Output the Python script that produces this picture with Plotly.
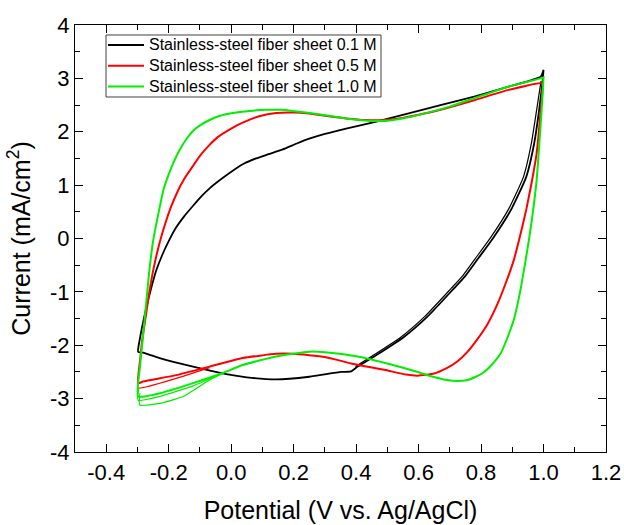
import plotly.graph_objects as go

# Cyclic voltammograms of stainless-steel fiber sheet electrodes at three
# electrolyte concentrations. Potential in V vs. Ag/AgCl, current in mA/cm^2.

# 0.1 M: anodic (forward) and cathodic (reverse) sweeps
v_01_fwd = [-0.298, -0.293, -0.285, -0.272, -0.257, -0.240, -0.220, -0.200, -0.177, -0.150,
            -0.124, -0.097, -0.069, -0.035, 0.005, 0.040, 0.080, 0.120, 0.165, 0.210,
            0.250, 0.300, 0.368, 0.465, 0.565, 0.670, 0.778, 0.885, 0.991, 1.000]
i_01_fwd = [-2.12, -1.90, -1.65, -1.30, -0.95, -0.60, -0.30, -0.05, 0.20, 0.42,
            0.60, 0.78, 0.94, 1.10, 1.27, 1.40, 1.50, 1.58, 1.67, 1.78,
            1.87, 1.96, 2.06, 2.19, 2.34, 2.50, 2.66, 2.84, 3.03, 3.16]
v_01_rev = [1.000, 0.997, 0.986, 0.970, 0.945, 0.898, 0.840, 0.790, 0.750, 0.714, 0.629,
            0.554, 0.469, 0.405, 0.384, 0.352, 0.250, 0.144, 0.050, -0.016, -0.122, -0.229,
            -0.282, -0.298]
i_01_rev = [3.16, 2.95, 2.41, 1.78, 1.16, 0.56, 0.02, -0.38, -0.70, -0.93, -1.46,
            -1.84, -2.17, -2.40, -2.49, -2.50, -2.59, -2.64, -2.60, -2.54, -2.40, -2.24,
            -2.14, -2.12]
# second cycle, cathodic sweep
v_01_rev2 = [0.992, 0.978, 0.961, 0.936, 0.889, 0.831, 0.781, 0.741, 0.705, 0.620, 0.545,
             0.460, 0.398]
i_01_rev2 = [2.95, 2.41, 1.78, 1.16, 0.56, 0.02, -0.38, -0.70, -0.93, -1.46, -1.84,
             -2.17, -2.40]

# 0.5 M
v_05_fwd = [-0.298, -0.292, -0.284, -0.272, -0.262, -0.248, -0.230, -0.210, -0.192, -0.170,
            -0.150, -0.120, -0.097, -0.070, -0.043, 0.000, 0.037, 0.090, 0.144, 0.200,
            0.250, 0.300, 0.368, 0.430, 0.490, 0.550, 0.618, 0.700, 0.778, 0.885, 0.991]
i_05_fwd = [-2.71, -2.30, -1.87, -1.40, -1.00, -0.55, -0.10, 0.30, 0.60, 0.90,
            1.12, 1.38, 1.57, 1.75, 1.90, 2.06, 2.17, 2.29, 2.35, 2.36,
            2.34, 2.30, 2.25, 2.22, 2.22, 2.26, 2.34, 2.46, 2.59, 2.78, 2.91]
v_05_rev = [0.997, 0.991, 0.978, 0.962, 0.945, 0.925, 0.905, 0.880, 0.853, 0.821, 0.789,
            0.757, 0.725, 0.690, 0.650, 0.597, 0.560, 0.490, 0.384, 0.300, 0.200, 0.144,
            0.037, -0.069, -0.176, -0.282, -0.298]
i_05_rev = [2.88, 2.41, 1.60, 1.05, 0.55, 0.05, -0.40, -0.82, -1.22, -1.60, -1.88,
            -2.12, -2.30, -2.43, -2.53, -2.57, -2.55, -2.46, -2.34, -2.22, -2.16, -2.16,
            -2.24, -2.40, -2.56, -2.68, -2.71]
v_05_rev2 = [-0.069, -0.176, -0.298, -0.296]
i_05_rev2 = [-2.42, -2.62, -2.80, -2.60]

# 1.0 M
v_10_fwd = [-0.298, -0.292, -0.283, -0.272, -0.262, -0.250, -0.235, -0.215, -0.200, -0.185,
            -0.166, -0.145, -0.123, -0.100, -0.069, -0.040, 0.005, 0.060, 0.112, 0.160,
            0.197, 0.280, 0.368, 0.430, 0.480, 0.540, 0.618, 0.700, 0.778, 0.885, 0.991,
            1.000]
i_10_fwd = [-2.96, -2.40, -1.87, -1.20, -0.60, -0.05, 0.41, 0.95, 1.20, 1.42,
            1.65, 1.85, 2.01, 2.12, 2.22, 2.29, 2.35, 2.39, 2.41, 2.41,
            2.39, 2.33, 2.25, 2.21, 2.20, 2.24, 2.34, 2.47, 2.63, 2.84, 3.00,
            3.02]
v_10_rev = [1.000, 0.995, 0.988, 0.978, 0.966, 0.954, 0.940, 0.925, 0.906, 0.885, 0.863,
            0.835, 0.810, 0.780, 0.757, 0.725, 0.690, 0.640, 0.597, 0.512, 0.405, 0.300,
            0.250, 0.144, 0.037, -0.027, -0.122, -0.229, -0.298]
i_10_rev = [3.02, 2.50, 1.90, 1.10, 0.50, 0.00, -0.50, -1.00, -1.50, -1.85, -2.15,
            -2.36, -2.50, -2.60, -2.65, -2.67, -2.65, -2.58, -2.50, -2.36, -2.21, -2.13,
            -2.12, -2.21, -2.37, -2.52, -2.71, -2.90, -2.96]
v_10_rev2 = [-0.027, -0.122, -0.229, -0.298, -0.296]
i_10_rev2 = [-2.53, -2.76, -2.96, -3.03, -2.80]
v_10_rev3 = [-0.016, -0.069, -0.154, -0.229, -0.293, -0.292]
i_10_rev3 = [-2.49, -2.65, -2.96, -3.09, -3.12, -2.90]

labels = ["Stainless-steel fiber sheet 0.1 M",
          "Stainless-steel fiber sheet 0.5 M",
          "Stainless-steel fiber sheet 1.0 M"]
colors = ["#000000", "#ff0000", "#00ee00"]
widths = [1.8, 2.0, 2.0]

x_ticks = [-0.4, -0.2, 0.0, 0.2, 0.4, 0.6, 0.8, 1.0, 1.2]
y_ticks = [-4, -3, -2, -1, 0, 1, 2, 3, 4]

FONT = "Liberation Sans, Arial, sans-serif"

fig = go.Figure()

series = [
    (v_01_fwd + v_01_rev, i_01_fwd + i_01_rev, [(v_01_rev2, i_01_rev2)]),
    (v_05_fwd + v_05_rev, i_05_fwd + i_05_rev, [(v_05_rev2, i_05_rev2)]),
    (v_10_fwd + v_10_rev, i_10_fwd + i_10_rev, [(v_10_rev2, i_10_rev2), (v_10_rev3, i_10_rev3)]),
]

for k, (vx, iy, extra) in enumerate(series):
    fig.add_trace(go.Scatter(
        x=vx, y=iy, mode="lines", name=labels[k], legendgroup=labels[k], showlegend=False,
        line=dict(color=colors[k], width=widths[k], shape="spline", smoothing=0.5),
    ))
    for ex, ey in extra:
        fig.add_trace(go.Scatter(
            x=ex, y=ey, mode="lines", legendgroup=labels[k], showlegend=False,
            line=dict(color=colors[k], width=1.2, shape="spline", smoothing=0.5),
        ))

# Compact boxed legend in the upper-left corner of the plot area
box_x0, box_x1, box_y0, box_y1 = 0.0584, 0.5763, 0.8314, 0.9766
row_y = [0.9532, 0.9044, 0.8560]
fig.add_shape(type="rect", xref="paper", yref="paper",
              x0=box_x0, x1=box_x1, y0=box_y0, y1=box_y1,
              line=dict(color="#404040", width=1), fillcolor="white", layer="above")
for k, lab in enumerate(labels):
    fig.add_shape(type="line", xref="paper", yref="paper",
                  x0=0.0621, x1=0.1299, y0=row_y[k], y1=row_y[k],
                  line=dict(color=colors[k], width=2), layer="above")
    fig.add_annotation(x=0.1356, y=row_y[k], xref="paper", yref="paper",
                       text=lab, showarrow=False, xanchor="left", yanchor="middle",
                       font=dict(family=FONT, size=16, color="#000000"))

axis_common = dict(
    showline=True, linecolor="#000000", linewidth=1.3, mirror="ticks",
    ticks="inside", ticklen=8, tickwidth=1.2, tickcolor="#000000",
    showgrid=False, zeroline=False, automargin=False,
    tickfont=dict(family=FONT, size=22, color="#000000"),
)

fig.update_layout(
    width=624, height=525, autosize=False,
    margin=dict(l=75, r=18, t=25, b=73),
    paper_bgcolor="white", plot_bgcolor="white",
    font=dict(family=FONT, color="#000000"),
    showlegend=False,
    xaxis=dict(
        range=[-0.5, 1.2], tickvals=x_ticks, ticktext=[f"{t:.1f}" for t in x_ticks],
        minor=dict(dtick=0.1, tick0=-0.5, ticks="inside", ticklen=5, tickwidth=1.2,
                   tickcolor="#000000", showgrid=False),
        title=dict(text="Potential (V vs. Ag/AgCl)", font=dict(family=FONT, size=25),
                   standoff=17),
        **axis_common,
    ),
    yaxis=dict(
        range=[-4, 4], tickvals=y_ticks, ticktext=[str(t) for t in y_ticks],
        minor=dict(dtick=0.5, tick0=-4, ticks="inside", ticklen=5, tickwidth=1.2,
                   tickcolor="#000000", showgrid=False),
        title=dict(text="Current (mA/cm<sup>2</sup>)", font=dict(family=FONT, size=25),
                   standoff=12),
        **axis_common,
    ),
)

fig.write_html("out.html")
